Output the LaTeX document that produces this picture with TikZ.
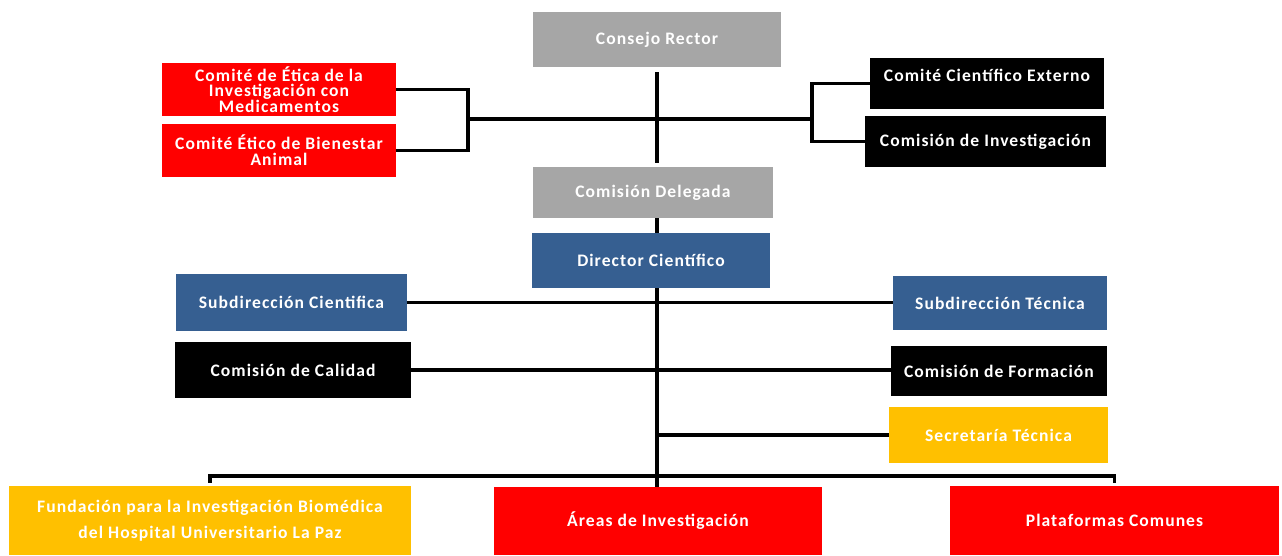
\documentclass[tikz,border=0pt]{standalone}
\usepackage{fontspec}
\setmainfont{Carlito}[LetterSpace=6]
\usetikzlibrary{backgrounds}
\definecolor{boxgray}{HTML}{A6A6A6}
\definecolor{boxblue}{HTML}{365F91}
\definecolor{boxred}{HTML}{FF0000}
\definecolor{boxyellow}{HTML}{FFC000}

\begin{document}
\begin{tikzpicture}[x=0.02cm, y=-0.02cm,
			unit/.style={fill=#1, text=white, inner sep=2pt, outer sep=0pt,
				align=center, font=\bfseries\fontsize{10}{9}\selectfont},
			ln/.style={line width=1.8pt, black}
			]
			\useasboundingbox (0,0) rectangle (1282,555);
			% governing bodies
			\node[unit=boxgray, minimum width=4.96cm, minimum height=1.1cm] (rector) at (657,39.5) {Consejo Rector};
			\node[unit=boxgray, minimum width=4.8cm, minimum height=1.02cm] (delegada) at (653,192.5) {Comisión Delegada};
			\node[unit=boxblue, minimum width=4.76cm, minimum height=1.1cm] (director) at (651,260.5) {Director Científico};
			% ethics committees (left) and advisory bodies (right)
			\node[unit=boxred, minimum width=4.68cm, minimum height=1.06cm] (etica) at (279,89.5)
			{Comité de Ética de la\\ Investigación con\\ Medicamentos};
			\node[unit=boxred, minimum width=4.68cm, minimum height=1.06cm] (animal) at (279,150.5)
			{Comité Ético de Bienestar\\ Animal};
			\node[unit=black, minimum width=4.68cm, minimum height=1.02cm] (externo) at (987,83.5)
			{Comité Científico Externo\\ \mbox{}};
			\node[unit=black, minimum width=4.82cm, minimum height=1.02cm] (invest) at (985.5,141.5) {Comisión de Investigación};
			% sub-directions and commissions
			\node[unit=boxblue, minimum width=4.62cm, minimum height=1.14cm] (subcient) at (291.5,302.5) {Subdirección Cientifica};
			\node[unit=boxblue, minimum width=4.28cm, minimum height=1.08cm] (subtec) at (1000,303) {Subdirección Técnica};
			\node[unit=black, minimum width=4.72cm, minimum height=1.12cm] (calidad) at (293,370) {Comisión de Calidad};
			\node[unit=black, minimum width=4.32cm, minimum height=1cm] (formacion) at (999,371) {Comisión de Formación};
			\node[unit=boxyellow, minimum width=4.38cm, minimum height=1.12cm] (secretaria) at (998.5,435) {Secretaría Técnica};
			% bottom row
			\node[unit=boxyellow, minimum width=8.04cm, minimum height=1.38cm] (fundacion) at (210,520.5)
			{Fundación para la Investigación Biomédica\\[6pt] del Hospital Universitario La Paz};
			\node[unit=boxred, minimum width=6.56cm, minimum height=1.36cm] (areas) at (658,521) {Áreas de Investigación};
			\node[unit=boxred, minimum width=6.58cm, minimum height=1.38cm] (plataformas) at (1114.5,520.5) {Plataformas Comunes};
			% connectors
			\coordinate (lb) at (468,119);
			\coordinate (rb) at (812,119);
			\coordinate (bus) at (657,476);
			\draw[ln, shorten <=3pt, shorten >=2pt] (rector.south) -- (rector.south |- delegada.north);
			\draw[ln] (etica.east) -| (lb) |- (animal.east);
			\draw[ln] (externo.west) -| (rb) |- (invest.west);
			\draw[ln] (lb) -- (rb);
			\draw[ln] (rector.south |- delegada.south) -- (rector.south |- director.north);
			\draw[ln] (rector.south |- director.south) -- (rector.south |- areas.north);
			\draw[ln] (subcient.east) -- (subcient.east -| subtec.west);
			\draw[ln] (calidad.east) -- (calidad.east -| formacion.west);
			\draw[ln] (secretaria.west -| rector.south) -- (secretaria.west);
			\draw[ln, shorten <=2pt, shorten >=2pt] (fundacion.north) |- (bus) -| (plataformas.north);
	\end{tikzpicture}
\end{document}
